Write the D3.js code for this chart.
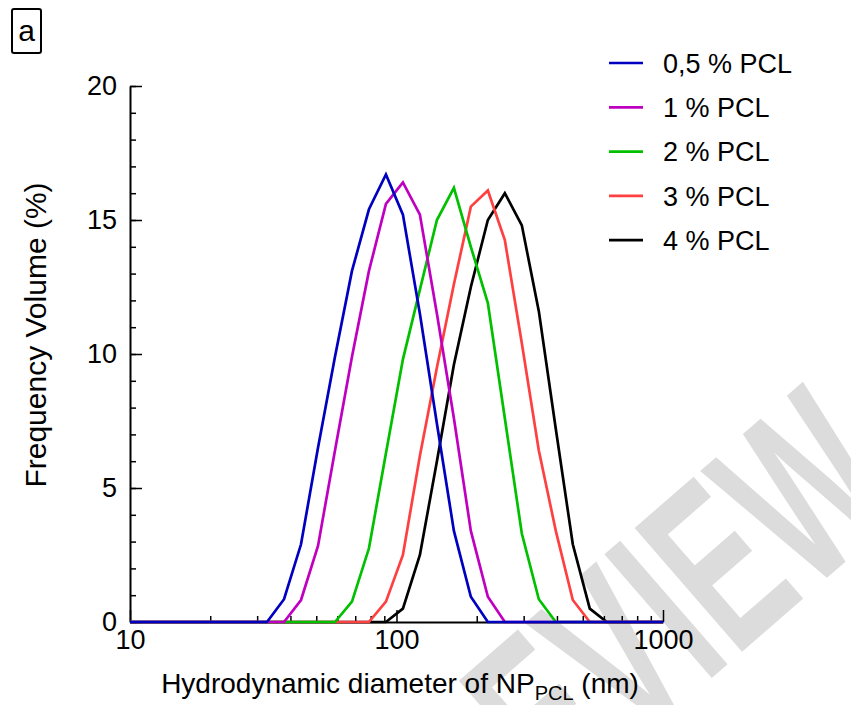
<!DOCTYPE html>
<html>
<head>
<meta charset="utf-8">
<script src="https://cdnjs.cloudflare.com/ajax/libs/d3/7.8.5/d3.min.js"></script>
<style>
  body { margin: 0; background: #fff; }
  svg { display: block; font-family: "Liberation Sans", Arial, sans-serif; }
</style>
</head>
<body>
<svg class="grafico-d3-svg"></svg>
<script>
// diametros das classes (nm) - escala log do Zetasizer
const diametros = [8.721, 10.10, 11.70, 13.54, 15.69, 18.17, 21.04, 24.36, 28.21, 32.67,
                   37.84, 43.82, 50.75, 58.77, 68.06, 78.82, 91.28, 105.7, 122.4, 141.8,
                   164.2, 190.1, 220.2, 255.0, 295.3, 342.0, 396.1, 458.7, 531.2, 615.1,
                   712.4, 825.0, 955.4, 1106];

// frequencia em volume (%) para cada concentracao
const pcl_05 = [0, 0, 0, 0, 0, 0, 0, 0, 0, 0,
                0.85, 2.9, 6.5, 9.9, 13.1, 15.4, 16.7, 15.2, 11.5, 7.4,
                3.4, 0.94, 0, 0, 0, 0, 0, 0, 0, 0,
                0, 0, 0, 0];
const pcl_1  = [0, 0, 0, 0, 0, 0, 0, 0, 0, 0,
                0, 0.82, 2.84, 6.4, 9.9, 13.1, 15.6, 16.4, 15.2, 11.5,
                7.6, 3.4, 0.94, 0, 0, 0, 0, 0, 0, 0,
                0, 0, 0, 0];
const pcl_2  = [0, 0, 0, 0, 0, 0, 0, 0, 0, 0,
                0, 0, 0, 0, 0.76, 2.75, 6.3, 9.8, 12.4, 15.0,
                16.2, 14.0, 11.9, 7.6, 3.3, 0.85, 0, 0, 0, 0,
                0, 0, 0, 0];
const pcl_3  = [0, 0, 0, 0, 0, 0, 0, 0, 0, 0,
                0, 0, 0, 0, 0, 0, 0.76, 2.5, 6.2, 9.5,
                12.6, 15.5, 16.1, 14.25, 10.4, 6.4, 3.4, 0.82, 0, 0,
                0, 0, 0, 0];
const pcl_4  = [0, 0, 0, 0, 0, 0, 0, 0, 0, 0,
                0, 0, 0, 0, 0, 0, 0, 0.5, 2.5, 6.0,
                9.6, 12.5, 15.0, 16.0, 14.8, 11.6, 7.2, 2.9, 0.5, 0,
                0, 0, 0, 0];

const nomes  = ["0,5 % PCL", "1 % PCL", "2 % PCL", "3 % PCL", "4 % PCL"];
const cores  = ["#0000c0", "#c000c0", "#00c000", "#ff4040", "#000000"];

const ticks_x       = [10, 100, 1000];
const ticks_x_menor = [20, 30, 40, 50, 60, 70, 80, 90, 200, 300, 400, 500, 600, 700, 800, 900];
const ticks_y       = [0, 5, 10, 15, 20];
const ticks_y_menor = d3.range(0, 21, 1);

const W = 851, H = 705;
const M = { left: 130, right: 851 - 663, top: 86, bottom: 705 - 622 };

const $SVG = d3.select(".grafico-d3-svg")
               .attr("width", W)
               .attr("height", H);

// marca d'agua "PREVIEW" (fica por baixo de tudo)
$SVG.append("text")
    .attr("transform", "translate(668,716) rotate(-41) scale(0.85,1.4)")
    .attr("x", -406)
    .attr("y", 0)
    .attr("font-size", 170)
    .attr("font-weight", "bold")
    .attr("fill", "#dcdcdc")
    .text("PREVIEW");

const x = d3.scaleLog()
    .domain([10, 1000])
    .range([M.left, W - M.right]);

const y = d3.scaleLinear()
    .domain([0, 20])
    .range([H - M.bottom, M.top]);

const series = [pcl_05, pcl_1, pcl_2, pcl_3, pcl_4].map((vals, i) => ({
    nome: nomes[i],
    cor: cores[i],
    pontos: diametros.map((d, j) => ({ d: d, v: vals[j] }))
}));

// eixos
const g_x = $SVG.append("g")
    .attr("transform", `translate(0,${H - M.bottom})`);

g_x.append("g")
   .call(d3.axisBottom(x).tickValues(ticks_x_menor).tickSize(-6).tickFormat(""))
   .call(g => g.select(".domain").remove());

g_x.append("g")
   .call(d3.axisBottom(x).tickValues(ticks_x).tickSizeInner(-12).tickSizeOuter(0)
            .tickPadding(8).tickFormat(d3.format("d")))
   .call(g => g.selectAll("text").attr("font-size", 27).attr("fill", "#000")
                .attr("font-family", "Liberation Sans, Arial, sans-serif"));

const g_y = $SVG.append("g")
    .attr("transform", `translate(${M.left},0)`);

g_y.append("g")
   .call(d3.axisLeft(y).tickValues(ticks_y_menor).tickSize(-6).tickFormat(""))
   .call(g => g.select(".domain").remove());

g_y.append("g")
   .call(d3.axisLeft(y).tickValues(ticks_y).tickSizeInner(-12).tickSizeOuter(0)
            .tickPadding(13))
   .call(g => g.selectAll("text").attr("font-size", 27).attr("fill", "#000")
                .attr("font-family", "Liberation Sans, Arial, sans-serif"));

$SVG.selectAll(".tick line").attr("stroke", "#000").attr("stroke-width", 1.5);
$SVG.selectAll(".domain").attr("stroke", "#000").attr("stroke-width", 2);

// linhas
$SVG.append("clipPath").attr("id", "recorte")
    .append("rect")
    .attr("x", M.left).attr("y", 0)
    .attr("width", W - M.left - M.right).attr("height", H);

const linha = d3.line()
    .x(d => x(d.d))
    .y(d => y(d.v));

$SVG.append("g")
    .attr("clip-path", "url(#recorte)")
    .selectAll("path")
    .data(series.slice().reverse())
    .enter()
    .append("path")
    .attr("d", d => linha(d.pontos))
    .attr("fill", "none")
    .attr("stroke", d => d.cor)
    .attr("stroke-width", 2.7)
    .attr("stroke-linejoin", "miter");

// legenda
const leg = $SVG.append("g")
    .selectAll("g")
    .data(series)
    .enter()
    .append("g")
    .attr("transform", (d, i) => `translate(609,${63 + i * 44.3})`);

leg.append("line")
   .attr("x1", 0).attr("x2", 34)
   .attr("stroke", d => d.cor)
   .attr("stroke-width", 2.7);

leg.append("text")
   .attr("x", 54)
   .attr("dy", "0.36em")
   .attr("font-size", 27)
   .text(d => d.nome);

// titulos dos eixos
const t_x = $SVG.append("text")
    .attr("x", 400)
    .attr("y", 693)
    .attr("text-anchor", "middle")
    .attr("font-size", 28);
t_x.append("tspan").text("Hydrodynamic diameter of NP");
t_x.append("tspan").attr("font-size", 20).attr("dy", 7).text("PCL");
t_x.append("tspan").attr("dy", -7).text(" (nm)");

$SVG.append("text")
    .attr("transform", "translate(46,335) rotate(-90)")
    .attr("text-anchor", "middle")
    .attr("font-size", 30)
    .text("Frequency Volume (%)");

// rotulo do painel
$SVG.append("rect")
    .attr("x", 12).attr("y", 9)
    .attr("width", 29).attr("height", 44)
    .attr("rx", 2)
    .attr("fill", "none")
    .attr("stroke", "#000")
    .attr("stroke-width", 2);

$SVG.append("text")
    .attr("x", 26.5).attr("y", 41)
    .attr("text-anchor", "middle")
    .attr("font-size", 30)
    .text("a");
</script>
</body>
</html>
